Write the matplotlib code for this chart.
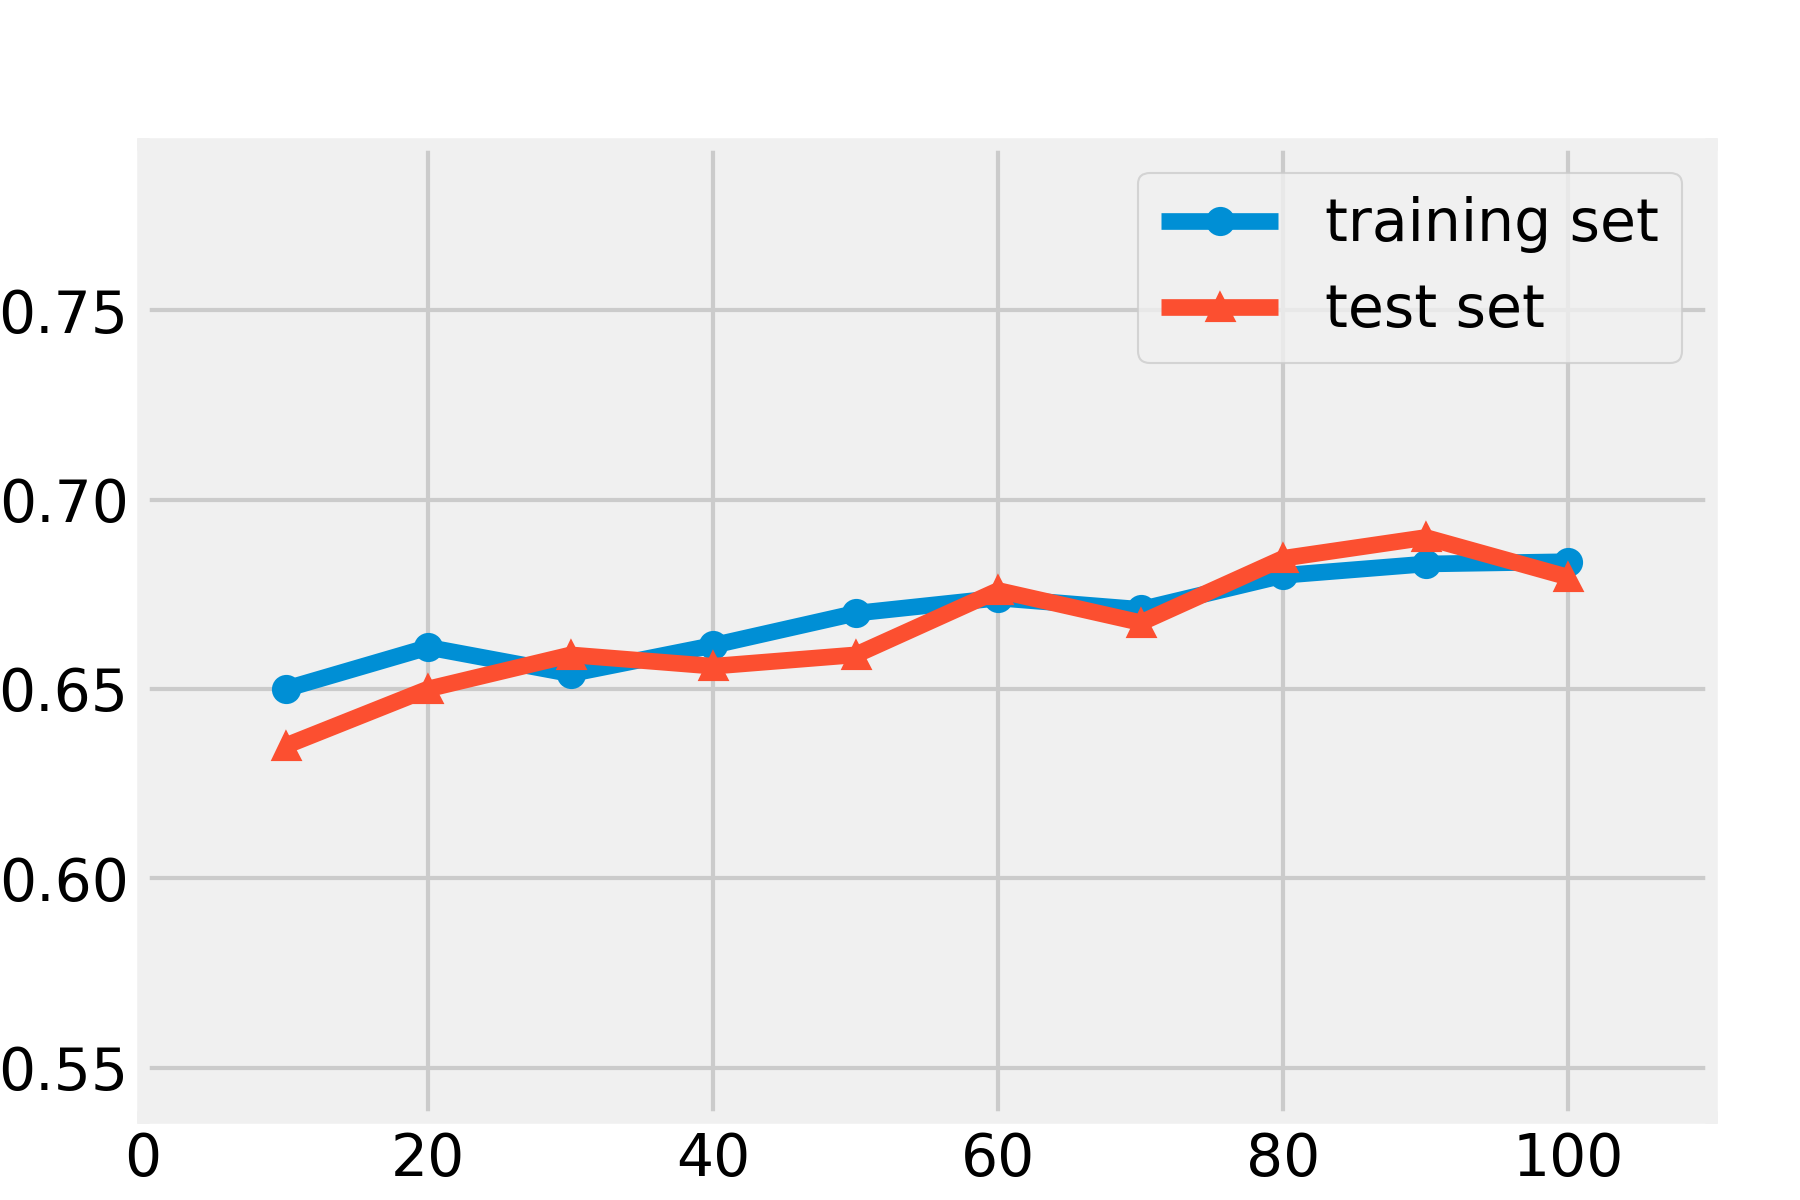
import matplotlib
matplotlib.use("Agg")
import matplotlib.pyplot as plt

# values
sizes = [10, 20, 30, 40, 50, 60, 70, 80, 90, 100]
train_scores = [0.650, 0.661, 0.654, 0.6615, 0.670, 0.674, 0.671, 0.680, 0.683, 0.6836]
test_scores = [0.635, 0.650, 0.659, 0.656, 0.659, 0.676, 0.6675, 0.6845, 0.690, 0.6795]

plt.style.use("fivethirtyeight")
fig = plt.figure(figsize=(6, 4), dpi=300)
fig.patch.set_facecolor("white")
ax = fig.add_axes([0.0795, 0.0693, 0.871, 0.811])

ax.plot(sizes, train_scores, marker="o", color="#008fd5", label="training set")
ax.plot(sizes, test_scores, marker="^", color="#fc4f30", label="test set")

ax.set_xlim(0, 110)
ax.set_ylim(0.537, 0.794)
ax.set_xticks([0, 20, 40, 60, 80, 100])
ax.set_yticks([0.55, 0.60, 0.65, 0.70, 0.75])
ax.legend(loc="upper right")

fig.savefig("out.png", dpi=300, facecolor="white")
